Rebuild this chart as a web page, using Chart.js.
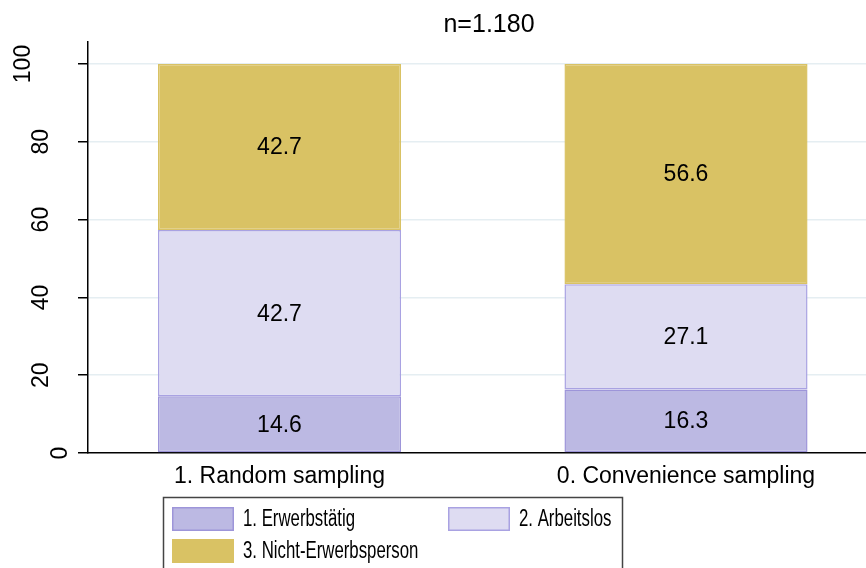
<!DOCTYPE html>
<html>
<head>
<meta charset="utf-8">
<script src="https://cdn.jsdelivr.net/npm/chart.js@4"></script>
<style>
	body { margin: 0; background: #fff; }
	#wrap { width: 866px; height: 568px; position: relative; }
</style>
</head>
<body>
<div id="wrap"><canvas id="statusChart"></canvas></div>
<script>
// data
const titleText = 'n=1.180';
const categories = ['1. Random sampling', '0. Convenience sampling'];
const seriesLabels = ['1. Erwerbstätig', '2. Arbeitslos', '3. Nicht-Erwerbsperson'];
const erwerbstaetig = [14.6, 16.3];
const arbeitslos = [42.7, 27.1];
const nichtErwerb = [42.7, 56.6];
const yTicks = [0, 20, 40, 60, 80, 100];

// colours
const fillColors = ['#bcb9e3', '#dedcf2', '#d9c264'];
const lineColors = ['#9d95d9', '#a9a2e2', '#d9c264'];
const fontFamily = '"Liberation Sans", Arial, sans-serif';

const seriesValues = [erwerbstaetig, arbeitslos, nichtErwerb];

// value labels inside the segments
const segmentLabels = {
	id: 'segmentLabels',
	afterDatasetsDraw(chart) {
		const ctx = chart.ctx;
		ctx.save();
		ctx.font = '23px ' + fontFamily;
		ctx.fillStyle = '#000';
		ctx.textAlign = 'center';
		ctx.textBaseline = 'middle';
		chart.data.datasets.forEach((ds, i) => {
			chart.getDatasetMeta(i).data.forEach((bar, j) => {
				const p = bar.getProps(['x', 'y', 'base'], true);
				ctx.fillText(ds.data[j].y.toFixed(1), p.x, (p.y + p.base) / 2 + 1);
			});
		});
		ctx.restore();
	}
};

// rotated y labels (stata style offsets)
const yLabels = {
	id: 'yLabels',
	afterDraw(chart) {
		const ctx = chart.ctx;
		const scale = chart.scales.y;
		ctx.save();
		ctx.font = '23px ' + fontFamily;
		ctx.fillStyle = '#000';
		ctx.textAlign = 'center';
		ctx.textBaseline = 'middle';
		scale.ticks.forEach(t => {
			const txt = String(t.value);
			const w = ctx.measureText(txt).width;
			const py = scale.getPixelForValue(t.value);
			ctx.save();
			ctx.translate(79 - 1.48 * w, py);
			ctx.rotate(-Math.PI / 2);
			ctx.fillText(txt, 0, 1);
			ctx.restore();
		});
		ctx.restore();
	}
};

// subtitle
const topTitle = {
	id: 'topTitle',
	afterDraw(chart) {
		const ctx = chart.ctx;
		ctx.save();
		ctx.font = '25px ' + fontFamily;
		ctx.fillStyle = '#000';
		ctx.textAlign = 'center';
		ctx.textBaseline = 'middle';
		ctx.fillText(titleText, 489, 25);
		ctx.restore();
	}
};

// boxed legend, two columns
const boxLegend = {
	id: 'boxLegend',
	afterDraw(chart) {
		const ctx = chart.ctx;
		const slots = [[172, 507], [448, 507], [172, 539]];
		ctx.save();
		ctx.strokeStyle = '#444';
		ctx.lineWidth = 1.5;
		ctx.strokeRect(163.5, 497.5, 459, 90);
		ctx.font = '23px ' + fontFamily;
		ctx.textBaseline = 'middle';
		chart.data.datasets.forEach((ds, i) => {
			const [sx, sy] = slots[i];
			ctx.fillStyle = ds.backgroundColor;
			ctx.fillRect(sx, sy, 62, 24);
			ctx.strokeStyle = ds.borderColor;
			ctx.lineWidth = 1.5;
			ctx.strokeRect(sx + 0.75, sy + 0.75, 60.5, 22.5);
			ctx.save();
			ctx.translate(sx + 71, sy + 12);
			ctx.scale(0.73, 1);
			ctx.fillStyle = '#000';
			ctx.fillText(ds.label, 0, 1);
			ctx.restore();
		});
		ctx.restore();
	}
};

new Chart(document.getElementById('statusChart'), {
	type: 'bar',
	data: {
		datasets: seriesLabels.map((label, i) => ({
			label: label,
			data: seriesValues[i].map((v, j) => ({ x: j, y: v })),
			backgroundColor: fillColors[i],
			borderColor: lineColors[i],
			borderWidth: 1.5,
			borderSkipped: false,
			barPercentage: 0.598,
			categoryPercentage: 1,
		}))
	},
	options: {
		responsive: true,
		maintainAspectRatio: false,
		animation: false,
		layout: { padding: { top: 42, left: 0, right: 0, bottom: 0 } },
		plugins: {
			legend: { display: false },
			title: { display: false },
			tooltip: { enabled: false },
		},
		scales: {
			x: {
				type: 'linear',
				stacked: true,
				offset: false,
				min: -0.4711,
				max: 1.4428,
				afterBuildTicks: scale => {
					scale.ticks = categories.map((c, i) => ({ value: i }));
				},
				afterFit: scale => { scale.height = 115; },
				grid: { display: false, drawTicks: false },
				border: { display: true, color: '#000', width: 1.5 },
				ticks: {
					autoSkip: false,
					maxRotation: 0,
					padding: 10,
					color: '#000',
					font: { family: fontFamily, size: 23 },
					callback: v => categories[v],
				},
			},
			y: {
				stacked: true,
				min: 0,
				max: 105.66,
				afterBuildTicks: scale => {
					scale.ticks = yTicks.map(v => ({ value: v }));
				},
				afterFit: scale => { scale.width = 88; },
				grid: {
					color: c => (c.tick && c.tick.value === 0) ? 'rgba(0,0,0,0)' : '#e5eef2',
					lineWidth: 1.5,
					tickColor: '#000',
					tickWidth: 1.5,
					tickLength: 10,
				},
				border: { display: true, color: '#000', width: 1.5 },
				ticks: { display: false },
			}
		}
	},
	plugins: [segmentLabels, yLabels, topTitle, boxLegend]
});
</script>
</body>
</html>
